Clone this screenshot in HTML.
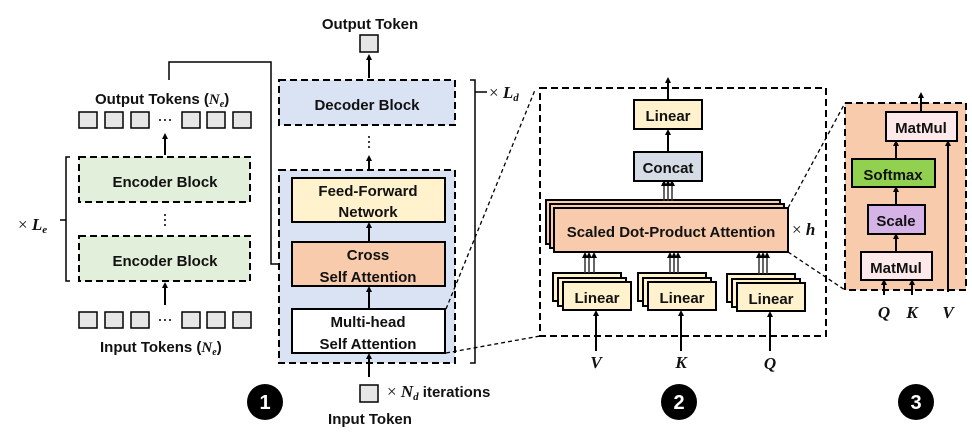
<!DOCTYPE html>
<html><head><meta charset="utf-8"><style>
html,body{margin:0;padding:0;background:#fff;}
svg{display:block;}
text{font-family:"Liberation Sans",Arial,sans-serif;font-weight:bold;fill:#111;}
.m{font-family:"Liberation Serif",serif;font-style:italic;font-weight:bold;}
.t{font-family:"Liberation Serif",serif;font-weight:normal;}
</style></head><body>
<svg width="972" height="432" viewBox="0 0 972 432" xmlns="http://www.w3.org/2000/svg">
<defs>
<marker id="a" markerWidth="6" markerHeight="6" refX="3" refY="3" orient="auto" markerUnits="userSpaceOnUse"><path d="M0,0 L6,3 L0,6 z" fill="#000"/></marker>
</defs>
<g stroke="#000" stroke-width="2" fill="none">
<!-- encoder side -->
<rect x="79" y="157" width="171" height="45" fill="#e2efda" stroke-dasharray="7,4"/>
<rect x="79" y="236" width="171" height="45" fill="#e2efda" stroke-dasharray="7,4"/>
<path d="M70,157 H66 V281 H70 M66,220 H60" stroke-width="1.5"/>
<line x1="165" y1="155" x2="165" y2="136" marker-end="url(#a)"/>
<line x1="165" y1="305" x2="165" y2="285" marker-end="url(#a)"/>
<path d="M169,80 V62 H271 V264 H287" stroke-width="1.5" marker-end="url(#a)"/>
<!-- decoder -->
<rect x="279" y="80" width="176" height="45" fill="#dae3f3" stroke-dasharray="7,4"/>
<rect x="279" y="170" width="176" height="193" fill="#dae3f3" stroke-dasharray="7,4"/>
<rect x="292" y="178" width="153" height="44" fill="#fff2cc"/>
<rect x="292" y="242" width="153" height="44" fill="#f8cbad"/>
<rect x="292" y="309" width="153" height="44" fill="#fff"/>
<line x1="369" y1="242" x2="369" y2="225" marker-end="url(#a)"/>
<line x1="369" y1="309" x2="369" y2="289" marker-end="url(#a)"/>
<line x1="369" y1="170" x2="369" y2="158" marker-end="url(#a)"/>
<line x1="369" y1="78" x2="369" y2="57" marker-end="url(#a)"/>
<line x1="369" y1="377" x2="369" y2="356" marker-end="url(#a)"/>
<path d="M470,80 H475 V363 H470 M475,92 H487" stroke-width="1.5"/>
<rect x="360" y="35" width="18" height="17" fill="#e6e6e6" stroke-width="1.5"/>
<rect x="360" y="385" width="18" height="17" fill="#e6e6e6" stroke-width="1.5"/>
<g fill="#e6e6e6" stroke-width="1.5">
<rect x="79" y="112" width="18" height="16"/><rect x="105" y="112" width="18" height="16"/><rect x="131" y="112" width="18" height="16"/>
<rect x="182" y="112" width="18" height="16"/><rect x="207" y="112" width="18" height="16"/><rect x="233" y="112" width="18" height="16"/>
<rect x="79" y="312" width="18" height="16"/><rect x="105" y="312" width="18" height="16"/><rect x="131" y="312" width="18" height="16"/>
<rect x="182" y="312" width="18" height="16"/><rect x="207" y="312" width="18" height="16"/><rect x="233" y="312" width="18" height="16"/>
</g>
<!-- zoom lines -->
<path d="M446,309 L535,90 M446,353 L540,336" stroke-width="1.3" stroke-dasharray="4,3"/>
<!-- middle panel -->
<rect x="540" y="88" width="286" height="248" stroke-dasharray="7,4"/>
<rect x="634" y="100" width="68" height="29" fill="#fff2cc"/>
<rect x="634" y="152" width="68" height="29" fill="#d6dce5"/>
<line x1="668" y1="100" x2="668" y2="80" marker-end="url(#a)"/>
<line x1="668" y1="152" x2="668" y2="132" marker-end="url(#a)"/>
<rect x="546" y="200" width="234" height="44" fill="#f8cbad"/>
<rect x="550" y="204" width="234" height="44" fill="#f8cbad"/>
<rect x="554" y="208" width="234" height="44" fill="#f8cbad"/>
<g fill="#fff2cc">
<rect x="553" y="273" width="68" height="28"/><rect x="558" y="278" width="68" height="28"/><rect x="563" y="282" width="68" height="28"/>
<rect x="638" y="273" width="68" height="28"/><rect x="643" y="278" width="68" height="28"/><rect x="648" y="282" width="68" height="28"/>
<rect x="727" y="274" width="68" height="28"/><rect x="732" y="279" width="68" height="28"/><rect x="737" y="283" width="68" height="28"/>
</g>
<g stroke="#333" stroke-width="1.5">
<line x1="664" y1="201" x2="664" y2="183" marker-end="url(#a)"/><line x1="668" y1="201" x2="668" y2="183" marker-end="url(#a)"/><line x1="672" y1="201" x2="672" y2="183" marker-end="url(#a)"/>
<line x1="585" y1="273" x2="585" y2="255" marker-end="url(#a)"/><line x1="589" y1="273" x2="589" y2="255" marker-end="url(#a)"/><line x1="594" y1="273" x2="594" y2="255" marker-end="url(#a)"/>
<line x1="670" y1="273" x2="670" y2="255" marker-end="url(#a)"/><line x1="674" y1="273" x2="674" y2="255" marker-end="url(#a)"/><line x1="678" y1="273" x2="678" y2="255" marker-end="url(#a)"/>
<line x1="759" y1="274" x2="759" y2="255" marker-end="url(#a)"/><line x1="763" y1="274" x2="763" y2="255" marker-end="url(#a)"/><line x1="767" y1="274" x2="767" y2="255" marker-end="url(#a)"/>
</g>
<line x1="596" y1="351" x2="596" y2="313" marker-end="url(#a)"/>
<line x1="681" y1="351" x2="681" y2="313" marker-end="url(#a)"/>
<line x1="770" y1="351" x2="770" y2="314" marker-end="url(#a)"/>
<path d="M788,208 L845,103 M788,252 L845,290" stroke-width="1.3" stroke-dasharray="4,3"/>
<!-- right panel -->
<rect x="845" y="103" width="121" height="187" fill="#f8cbad" stroke-dasharray="7,4"/>
<rect x="886" y="112" width="71" height="29" fill="#fde9e9"/>
<rect x="852" y="159" width="83" height="28" fill="#92d050"/>
<rect x="868" y="205" width="57" height="29" fill="#d5b3e6"/>
<rect x="861" y="252" width="71" height="28" fill="#fde9e9"/>
<line x1="896" y1="252" x2="896" y2="236" marker-end="url(#a)"/>
<line x1="896" y1="205" x2="896" y2="189" marker-end="url(#a)"/>
<line x1="896" y1="159" x2="896" y2="143" marker-end="url(#a)"/>
<line x1="921" y1="112" x2="921" y2="95" marker-end="url(#a)"/>
<line x1="948" y1="292" x2="948" y2="143" marker-end="url(#a)"/>
<line x1="884" y1="295" x2="884" y2="282" marker-end="url(#a)"/>
<line x1="912" y1="295" x2="912" y2="282" marker-end="url(#a)"/>
</g>
<!-- dots -->
<g fill="#000">
<circle cx="165" cy="120" r="1"/><circle cx="160" cy="120" r="1"/><circle cx="170" cy="120" r="1"/>
<circle cx="165" cy="320" r="1"/><circle cx="160" cy="320" r="1"/><circle cx="170" cy="320" r="1"/>
<circle cx="165" cy="215" r="1"/><circle cx="165" cy="220" r="1"/><circle cx="165" cy="225" r="1"/>
<circle cx="369" cy="137" r="1"/><circle cx="369" cy="142" r="1"/><circle cx="369" cy="147" r="1"/>
<circle cx="265" cy="402" r="18"/><circle cx="679" cy="402" r="18"/><circle cx="916" cy="402" r="18"/>
</g>
<text x="265" y="409" text-anchor="middle" font-size="20" style="fill:#fff">1</text>
<text x="679" y="409" text-anchor="middle" font-size="20" style="fill:#fff">2</text>
<text x="916" y="409" text-anchor="middle" font-size="20" style="fill:#fff">3</text>
<!-- labels -->
<g font-size="15" text-anchor="middle">
<text x="370" y="29">Output Token</text>
<text x="165" y="187">Encoder Block</text>
<text x="165" y="266">Encoder Block</text>
<text x="367" y="110">Decoder Block</text>
<text x="368" y="196">Feed-Forward</text>
<text x="368" y="217">Network</text>
<text x="368" y="260">Cross</text>
<text x="368" y="282">Self Attention</text>
<text x="368" y="327">Multi-head</text>
<text x="368" y="349">Self Attention</text>
<text x="370" y="424">Input Token</text>
<text x="668" y="121">Linear</text>
<text x="668" y="173">Concat</text>
<text x="671" y="237">Scaled Dot-Product Attention</text>
<text x="597" y="303">Linear</text>
<text x="682" y="303">Linear</text>
<text x="771" y="304">Linear</text>
<text x="921" y="133">MatMul</text>
<text x="893" y="180">Softmax</text>
<text x="896" y="226">Scale</text>
<text x="896" y="273">MatMul</text>
</g>
<text x="95" y="104" font-size="15">Output Tokens (<tspan class="m">N</tspan><tspan class="m" font-size="10" dy="3">e</tspan><tspan dy="-3">)</tspan></text>
<text x="100" y="352" font-size="15">Input Tokens (<tspan class="m">N</tspan><tspan class="m" font-size="10" dy="3">e</tspan><tspan dy="-3">)</tspan></text>
<text x="18" y="230" font-size="17"><tspan class="t">× </tspan><tspan class="m">L</tspan><tspan class="m" font-size="11" dy="3">e</tspan></text>
<text x="489" y="98" font-size="17"><tspan class="t">× </tspan><tspan class="m">L</tspan><tspan class="m" font-size="11" dy="3">d</tspan></text>
<text x="387" y="397" font-size="15"><tspan class="t" font-size="17">× </tspan><tspan class="m" font-size="17">N</tspan><tspan class="m" font-size="11" dy="3">d</tspan><tspan dy="-3"> iterations</tspan></text>
<text x="792" y="235" font-size="17"><tspan class="t">× </tspan><tspan class="m">h</tspan></text>
<g font-size="17" text-anchor="middle" class="m">
<text class="m" x="596" y="368">V</text>
<text class="m" x="681" y="368">K</text>
<text class="m" x="770" y="369">Q</text>
<text class="m" x="884" y="318">Q</text>
<text class="m" x="912" y="318">K</text>
<text class="m" x="948" y="318">V</text>
</g>
</svg>
</body></html>
